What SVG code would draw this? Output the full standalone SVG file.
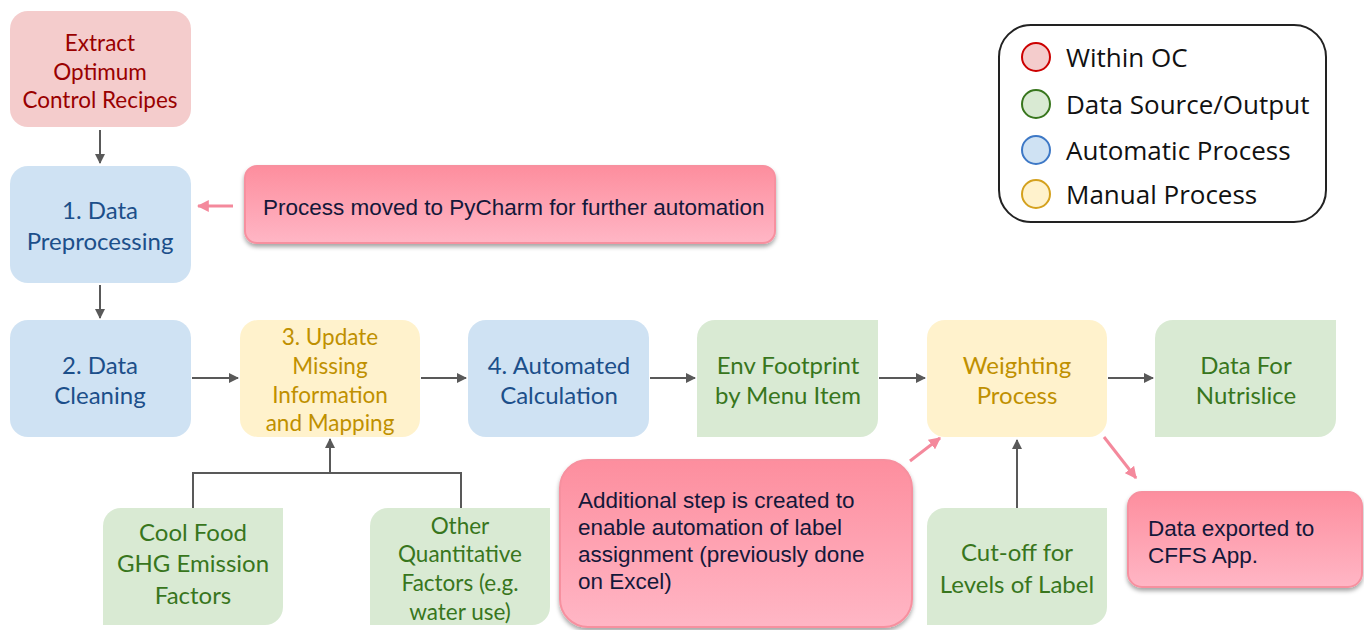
<svg xmlns="http://www.w3.org/2000/svg" width="1364" height="630" viewBox="0 0 1364 630">
<defs>
<marker id="ah" viewBox="0 0 10 10" refX="9" refY="5" markerWidth="10" markerHeight="10" markerUnits="userSpaceOnUse" orient="auto"><path d="M0,0 L10,5 L0,10 z" fill="#595959"/></marker>
<marker id="ahp" viewBox="0 0 10 10" refX="9" refY="5" markerWidth="12" markerHeight="12" markerUnits="userSpaceOnUse" orient="auto"><path d="M0,0 L10,5 L0,10 z" fill="#f4899c"/></marker>
<linearGradient id="pg" x1="0" y1="0" x2="0" y2="1"><stop offset="0" stop-color="#fd8e9e"/><stop offset="1" stop-color="#ffb6c5"/></linearGradient>
<filter id="sh" x="-10%" y="-10%" width="120%" height="130%"><feDropShadow dx="0" dy="3" stdDeviation="2" flood-color="#000" flood-opacity="0.35"/></filter>
<style>
.n{font-family:Lato,"Open Sans",sans-serif;font-size:24px;text-anchor:middle}
.sm{font-size:22.5px}
.red{fill:#f4cccc}.redt{fill:#990000}
.blue{fill:#cfe2f3}.bluet{fill:#1c4f8a}
.yel{fill:#fff2cc}.yelt{fill:#bf9000}
.grn{fill:#d9ead3}.grnt{fill:#38761d}
.con{stroke:#595959;stroke-width:2;fill:none}
.pk{stroke:#f4899c;stroke-width:3;fill:none}
.call{fill:url(#pg);stroke:#f7909f;stroke-width:2;filter:url(#sh)}
.ct{font-family:"Liberation Sans",Arial,sans-serif;font-size:22.5px;fill:#14183a}
.lg{font-family:"Open Sans",sans-serif;font-size:26px;fill:#111}
</style>
</defs>
<g id="connectors">
<path class="con" d="M100,130 V163" marker-end="url(#ah)"/>
<path class="con" d="M100,285 V318" marker-end="url(#ah)"/>
<path class="con" d="M192,378 H238" marker-end="url(#ah)"/>
<path class="con" d="M421,378 H466" marker-end="url(#ah)"/>
<path class="con" d="M650,378 H695" marker-end="url(#ah)"/>
<path class="con" d="M879,378 H925" marker-end="url(#ah)"/>
<path class="con" d="M1108,378 H1153" marker-end="url(#ah)"/>
<path class="con" d="M193,508 V473 H461 V508"/>
<path class="con" d="M330,473 V439" marker-end="url(#ah)"/>
<path class="con" d="M1017,508 V440" marker-end="url(#ah)"/>
<path class="pk" d="M233,206 H198" marker-end="url(#ahp)"/>
<path class="pk" d="M910,461 L940,438" marker-end="url(#ahp)"/>
<path class="pk" d="M1104,437 L1136,478" marker-end="url(#ahp)"/>
</g>
<g id="extract"><rect class="red" x="10" y="11" width="181" height="116" rx="18"/>
<text class="n sm redt" x="100" y="51">Extract</text><text class="n sm redt" x="100" y="80">Optimum</text><text class="n sm redt" x="100" y="108">Control Recipes</text></g>
<g id="preprocessing"><rect class="blue" x="10" y="166" width="181" height="117" rx="18"/>
<text class="n bluet" x="100" y="219">1. Data</text><text class="n bluet" x="100" y="250">Preprocessing</text></g>
<g id="cleaning"><rect class="blue" x="10" y="320" width="181" height="117" rx="18"/>
<text class="n bluet" x="100" y="374">2. Data</text><text class="n bluet" x="100" y="404">Cleaning</text></g>
<g id="update"><rect class="yel" x="240" y="320" width="180" height="117" rx="18"/>
<text class="n sm yelt" x="330" y="345">3. Update</text><text class="n sm yelt" x="330" y="374">Missing</text><text class="n sm yelt" x="330" y="403">Information</text><text class="n sm yelt" x="330" y="431">and Mapping</text></g>
<g id="automated"><rect class="blue" x="468" y="320" width="181" height="117" rx="18"/>
<text class="n bluet" x="559" y="374">4. Automated</text><text class="n bluet" x="559" y="404">Calculation</text></g>
<g id="envfootprint"><path class="grn" d="M715,320 H878 V419 A18,18 0 0 1 860,437 H697 V338 A18,18 0 0 1 715,320 z"/>
<text class="n grnt" x="788" y="374">Env Footprint</text><text class="n grnt" x="788" y="404">by Menu Item</text></g>
<g id="weighting"><rect class="yel" x="927" y="320" width="180" height="117" rx="18"/>
<text class="n yelt" x="1017" y="374">Weighting</text><text class="n yelt" x="1017" y="404">Process</text></g>
<g id="nutrislice"><path class="grn" d="M1173,320 H1336 V419 A18,18 0 0 1 1318,437 H1155 V338 A18,18 0 0 1 1173,320 z"/>
<text class="n grnt" x="1246" y="374">Data For</text><text class="n grnt" x="1246" y="404">Nutrislice</text></g>
<g id="coolfood"><path class="grn" d="M121,508 H283 V607 A18,18 0 0 1 265,625 H103 V526 A18,18 0 0 1 121,508 z"/>
<text class="n grnt" x="193" y="541">Cool Food</text><text class="n grnt" x="193" y="572">GHG Emission</text><text class="n grnt" x="193" y="604">Factors</text></g>
<g id="otherfactors"><path class="grn" d="M388,508 H550 V607 A18,18 0 0 1 532,625 H370 V526 A18,18 0 0 1 388,508 z"/>
<text class="n sm grnt" x="460" y="534">Other</text><text class="n sm grnt" x="460" y="562">Quantitative</text><text class="n sm grnt" x="460" y="591">Factors (e.g.</text><text class="n sm grnt" x="460" y="620">water use)</text></g>
<g id="cutoff"><path class="grn" d="M945,508 H1107 V607 A18,18 0 0 1 1089,625 H927 V526 A18,18 0 0 1 945,508 z"/>
<text class="n grnt" x="1017" y="561">Cut-off for</text><text class="n grnt" x="1017" y="593">Levels of Label</text></g>
<g id="note-pycharm"><rect class="call" x="245" y="166" width="530" height="77" rx="12"/>
<text class="ct" x="263" y="215">Process moved to PyCharm for further automation</text></g>
<g id="note-additional"><rect class="call" x="560" y="460" width="352" height="167" rx="28"/>
<text class="ct" x="578" y="508">Additional step is created to</text><text class="ct" x="578" y="535">enable automation of label</text><text class="ct" x="578" y="562">assignment (previously done</text><text class="ct" x="578" y="589">on Excel)</text></g>
<g id="note-exported"><rect class="call" x="1128" y="492" width="234" height="95" rx="14"/>
<text class="ct" x="1148" y="536">Data exported to</text><text class="ct" x="1148" y="563">CFFS App.</text></g>
<g id="legend"><rect x="999" y="25" width="327" height="197" rx="32" fill="#fff" stroke="#222" stroke-width="2"/>
<circle cx="1036" cy="57" r="14" fill="#f4cccc" stroke="#cc0000" stroke-width="2"/><text class="lg" x="1066" y="67">Within OC</text>
<circle cx="1036" cy="104" r="14" fill="#d9ead3" stroke="#38761d" stroke-width="2"/><text class="lg" x="1066" y="114">Data Source/Output</text>
<circle cx="1036" cy="150" r="14" fill="#cfe2f3" stroke="#3d78c6" stroke-width="2"/><text class="lg" x="1066" y="160">Automatic Process</text>
<circle cx="1036" cy="194" r="14" fill="#fff2cc" stroke="#d4a11e" stroke-width="2"/><text class="lg" x="1066" y="204">Manual Process</text></g>
</svg>
